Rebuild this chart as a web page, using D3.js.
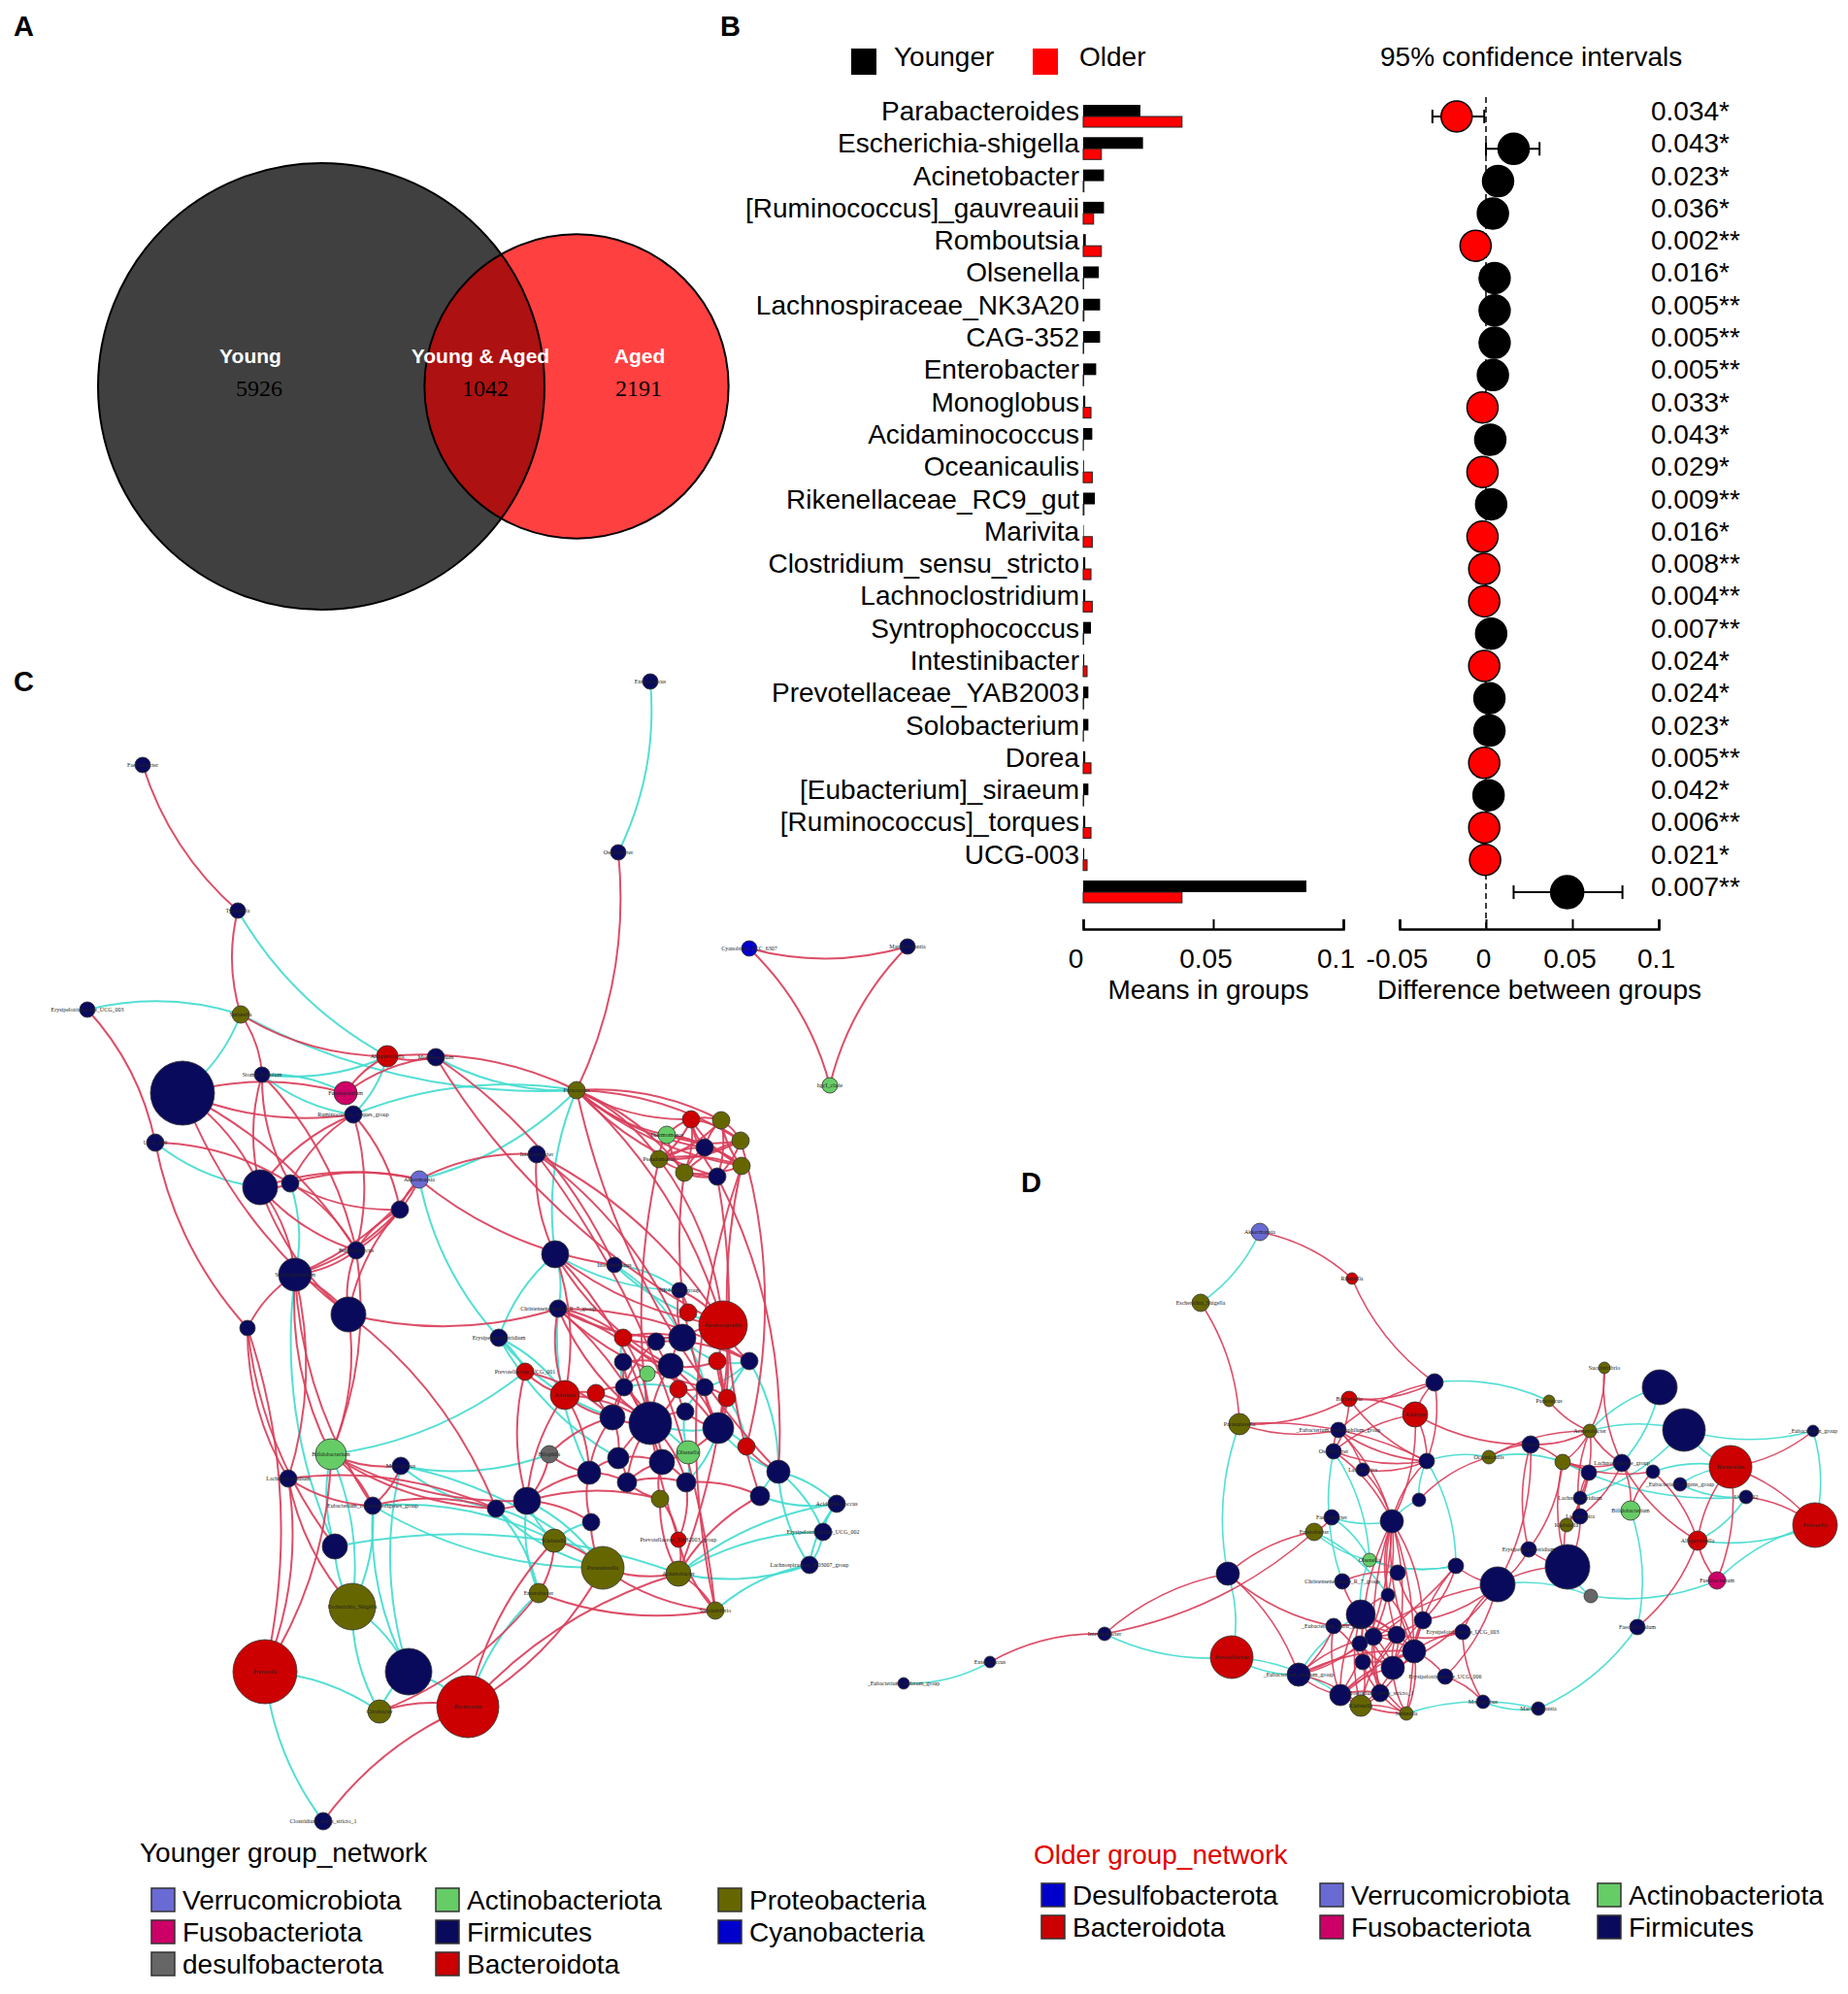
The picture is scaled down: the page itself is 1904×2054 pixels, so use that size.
<!DOCTYPE html>
<html>
<head>
<meta charset="utf-8">
<title>Younger vs Older gut microbiota</title>
<script src="https://d3js.org/d3.v7.min.js"></script>
<style>
  body { margin: 0; background: #fff; }
  text { font-family: "Liberation Sans", Arial, sans-serif; }
</style>
</head>
<body>
<svg width="1904" height="2054"></svg>
<script>
// ---------- data ----------
const vennLabels = ["Young", "Young & Aged", "Aged"];
const vennCounts = [5926, 1042, 2191];

const genera = ["Parabacteroides", "Escherichia-shigella", "Acinetobacter", "[Ruminococcus]_gauvreauii",
  "Romboutsia", "Olsenella", "Lachnospiraceae_NK3A20", "CAG-352", "Enterobacter", "Monoglobus",
  "Acidaminococcus", "Oceanicaulis", "Rikenellaceae_RC9_gut", "Marivita", "Clostridium_sensu_stricto",
  "Lachnoclostridium", "Syntrophococcus", "Intestinibacter", "Prevotellaceae_YAB2003", "Solobacterium",
  "Dorea", "[Eubacterium]_siraeum", "[Ruminococcus]_torques", "UCG-003", ""];
const meanYounger = [0.022, 0.023, 0.008, 0.008, 0.001, 0.006, 0.0065, 0.0065, 0.005, 0.0008,
  0.0035, 0.0003, 0.0045, 0.0002, 0.0008, 0.0008, 0.003, 0.0004, 0.002, 0.002,
  0.0008, 0.002, 0.0008, 0.0004, 0.0858];
const meanOlder = [0.038, 0.007, 0.0003, 0.004, 0.007, 0.0002, 0.0003, 0.0002, 0.0002, 0.003,
  0.0001, 0.0035, 0.0003, 0.0035, 0.003, 0.0035, 0.0002, 0.0015, 0.0002, 0.0001,
  0.003, 0.0002, 0.003, 0.0015, 0.038];
const diffMean = [-0.017, 0.016, 0.007, 0.004, -0.006, 0.005, 0.005, 0.005, 0.004, -0.002,
  0.0025, -0.002, 0.003, -0.002, -0.001, -0.001, 0.003, -0.001, 0.002, 0.002,
  -0.001, 0.0015, -0.001, -0.0005, 0.047];
const diffLow = [-0.031, 0.0, 0.002, 0.001, -0.010, 0.002, 0.002, 0.002, 0.001, -0.004,
  0.001, -0.004, 0.001, -0.004, -0.002, -0.002, 0.001, -0.002, 0.001, 0.001,
  -0.002, 0.0005, -0.002, -0.001, 0.016];
const diffHigh = [-0.001, 0.031, 0.012, 0.008, -0.002, 0.008, 0.008, 0.008, 0.007, -0.0005,
  0.004, -0.0005, 0.005, -0.0005, -0.0002, -0.0002, 0.005, -0.0002, 0.003, 0.003,
  -0.0002, 0.0025, -0.0002, -0.0001, 0.079];
const pValues = ["0.034*", "0.043*", "0.023*", "0.036*", "0.002**", "0.016*", "0.005**", "0.005**",
  "0.005**", "0.033*", "0.043*", "0.029*", "0.009**", "0.016*", "0.008**", "0.004**", "0.007**",
  "0.024*", "0.024*", "0.023*", "0.005**", "0.042*", "0.006**", "0.021*", "0.007**"];
const meanTicks = [0, 0.05, 0.1];
const diffTicks = [-0.05, 0, 0.05, 0.1];

const phylumCodes = ["V", "Fu", "D", "Act", "F", "B", "P", "Cy"];
const phylumColors = ["#6A6AD4", "#CC0066", "#666666", "#66CC66", "#0A0A5C", "#CC0000", "#666600", "#0000CC"];
const legendYounger = [["Verrucomicrobiota", "V"], ["Actinobacteriota", "Act"], ["Proteobacteria", "P"],
  ["Fusobacteriota", "Fu"], ["Firmicutes", "F"], ["Cyanobacteria", "Cy"],
  ["desulfobacterota", "D"], ["Bacteroidota", "B"]];
const legendOlder = [["Desulfobacterota", "Cy"], ["Verrucomicrobiota", "V"], ["Actinobacteriota", "Act"],
  ["Bacteroidota", "B"], ["Fusobacteriota", "Fu"], ["Firmicutes", "F"]];

// network C (younger): id, label, phylum, layout x, layout y, size
const cNodes = [
  ["c1","Enterococcus","F",630,12,8], ["c2","Faecalibacter","F",107,98,8], ["c3","Oscillibacter","F",597,188,8],
  ["c4","Tyzzerella","F",205,248,8], ["c5","Cyanobium_PCC_6307","Cy",732,287,8], ["c6","Marvinbryantia","F",895,285,8],
  ["c7","hgcI_clade","Act",815,428,8], ["c8","Erysipelotrichaceae_UCG_003","F",50,350,8], ["c9","Sutterella","P",208,355,9],
  ["c10","","F",148,436,33], ["c11","Stomatobaculum","F",230,417,8], ["c12","Alloprevotella","B",359,398,11],
  ["c13","Mogibacterium","F",409,399,9], ["c14","Fusobacterium","Fu",316,436,12], ["c15","Ruminococcus_torques_group","F",324,458,9],
  ["c16","Paracoccus","P",554,433,9],
  ["k1","","B",672,463,9], ["k2","","P",703,464,9], ["k3","Thermomonas","Act",647,479,9], ["k4","","P",723,485,9],
  ["k5","","F",686,492,9], ["k6","Pseudomonas","P",639,504,9], ["k7","","P",724,511,9], ["k8","","P",665,518,9], ["k9","","F",699,522,9],
  ["c18","UCG_009","F",120,487,9], ["c19","Intestinibacter","F",513,499,9], ["c20","","F",228,533,18],
  ["c21","","F",259,529,9], ["c22","Akkermansia","V",392,525,9], ["c23","","F",372,556,9],
  ["c24","Butyricicoccus","F",327,598,9], ["c25","","F",532,602,14], ["c26","Intestinimonas","F",593,613,8],
  ["c27","Subdoligranulum","F",264,623,17], ["c28","NK4A214_group","F",660,639,8], ["c29","","F",319,664,18],
  ["c30","","B",669,662,9], ["c31","Parabacteroides","B",705,675,25], ["c32","","F",215,678,8],
  ["c33","Christensenellaceae_R_7_group","F",535,658,9], ["c34","Erysipelatoclostridium","F",474,688,9], ["c35","","B",602,688,9],
  ["c36","","F",636,692,9], ["c37","","F",663,688,14], ["c38","","F",602,713,9], ["c39","","F",651,717,13],
  ["c40","","B",699,712,9], ["c41","","F",732,712,9], ["c42","Prevotellaceae_UCG_001","B",501,723,9],
  ["c43","","Act",627,725,8], ["c44","Alistipes","B",542,747,15], ["c45","","B",574,745,9], ["c46","","F",603,739,9],
  ["c47","","B",659,741,9], ["c48","","F",686,739,9], ["c49","","B",709,750,9], ["c50","","F",591,770,13],
  ["c51","","F",630,776,22], ["c52","","F",666,764,9], ["c53","","F",700,781,16], ["c54","","B",729,800,9],
  ["c55","Olsenella","Act",669,806,12], ["c56","Bifidobacterium","Act",301,808,16], ["c57","Bilophila","D",526,808,9],
  ["c58","","F",597,812,11], ["c59","","F",642,816,13], ["c60","Monoglobus","F",373,820,9], ["c61","","F",762,826,12],
  ["c62","","F",567,827,12], ["c63","Lachnoclostridium","F",257,833,9], ["c64","","F",606,837,10], ["c65","","F",667,837,10],
  ["c66","","F",503,856,14], ["c67","","P",640,854,9], ["c68","","F",743,851,10],
  ["c69","Eubacterium_coprostanoligenes_group","F",344,861,9], ["c70","","F",471,864,9], ["c71","Acidaminococcus","F",822,859,9],
  ["c72","","F",569,878,9], ["c73","Erysipelotrichaceae_UCG_002","F",808,888,9], ["c74","","F",305,903,13],
  ["c75","Klebsiella","P",531,897,12], ["c76","Prevotellaceae_YAB2003_group","B",659,896,8],
  ["c77","Lachnospiraceae_ND3007_group","F",794,922,9], ["c78","Parasutterella","P",581,925,22],
  ["c79","Acinetobacter","P",659,931,13], ["c80","Enterobacter","P",515,951,10], ["c81","Escherichia_Shigella","P",323,965,24],
  ["c82","Succinivibrio","P",697,969,9], ["c83","Prevotella","B",233,1032,33], ["c84","","F",381,1032,24],
  ["c85","Citrobacter","P",351,1073,12], ["c86","Bacteroides","B",442,1068,32], ["c87","Clostridium_sensu_stricto_1","F",293,1186,9]
];
const cPos = ("c2-c4 c3-c16 c4-c9 c8-c18 c9-c12 c9-c11 c11-c20 c11-c24 c11-c21 c10-c14 c10-c15 c10-c20 c10-c29 c10-c24 " +
  "c12-c14 c12-c16 c12-c13 c13-c26 c13-c31 c14-c13 c15-c20 c15-c24 c15-c21 c15-c23 " +
  "c16-k1 c16-k2 c16-k3 c16-k4 c16-k5 c16-k6 c16-k7 c16-k8 c16-k9 c16-c31 c16-c61 " +
  "k1-k2 k1-k3 k1-k4 k1-k5 k1-k6 k1-k7 k1-k8 k1-k9 k2-k4 k2-k5 k2-k6 k2-k7 k2-k9 k3-k4 k3-k5 k3-k6 k3-k7 k3-k8 " +
  "k4-k6 k4-k8 k4-k9 k5-k6 k5-k7 k5-k8 k6-k7 k6-k9 k7-k8 k8-k9 " +
  "k6-c31 k8-c53 k9-c61 k7-c68 k4-c54 k7-c82 k9-c79 k6-c76 " +
  "c18-c21 c18-c32 c19-c31 c19-c25 c19-c82 c19-c22 c19-c37 c20-c21 c20-c27 c20-c24 c20-c22 c20-c29 " +
  "c21-c22 c21-c23 c21-c24 c22-c23 c22-c24 c22-c26 c22-c27 c23-c24 c23-c27 c23-c29 c24-c27 c24-c29 c24-c56 " +
  "c27-c32 c27-c29 c27-c56 c27-c63 c27-c69 c29-c56 c29-c33 c29-c70 c32-c63 c32-c83 c32-c74 " +
  "c25-c51 c25-c31 c25-c44 c25-c39 c28-c31 c28-c37 c28-c30 " +
  "c33-c51 c33-c53 c33-c44 c33-c59 c33-c37 c33-c41 c33-c48 c33-c35 c42-c44 c42-c50 c42-c66 " +
  "c44-c45 c44-c50 c44-c51 c44-c66 c44-c62 " +
  "c35-c36 c35-c37 c35-c39 c35-c51 c36-c39 c36-c41 c36-c46 c37-c31 c37-c39 c38-c39 c38-c51 c38-c50 " +
  "c39-c40 c39-c47 c39-c51 c39-c53 c40-c49 c40-c53 c43-c46 c45-c46 c45-c50 c45-c51 c46-c50 c46-c51 " +
  "c47-c48 c47-c51 c47-c52 c48-c49 c48-c53 c49-c53 c50-c51 c50-c58 c50-c62 c51-c52 c51-c58 c51-c59 " +
  "c51-c64 c51-c65 c52-c53 c53-c59 c54-c61 c58-c59 c58-c62 c58-c64 c59-c64 c59-c65 c59-c67 c62-c64 " +
  "c62-c66 c64-c65 c64-c67 c65-c68 c68-c79 c67-c76 c67-c79 c65-c76 c31-c41 c31-c53 c31-c49 " +
  "c57-c66 c57-c62 c57-c50 c56-c60 c56-c69 c56-c70 c56-c83 c56-c66 c60-c69 c63-c69 c63-c70 c63-c81 " +
  "c69-c70 c70-c66 c66-c67 c72-c78 c72-c62 c72-c66 c75-c78 c75-c86 c75-c80 c78-c79 c78-c86 c78-c82 " +
  "c79-c82 c76-c82 c76-c79 c80-c82 c80-c85 c83-c63 c85-c86 c86-c87 c86-c79 c5-c6 c5-c7 c6-c7").split(" ");
const cNeg = ("c1-c3 c4-c12 c8-c9 c9-c16 c9-c10 c11-c12 c11-c14 c11-c15 c12-c15 c13-c16 c15-c16 c16-c25 c16-c22 " +
  "c18-c20 c21-c27 c27-c74 c25-c33 c25-c28 c26-c28 c26-c31 c26-c37 c33-c62 c34-c42 c34-c50 c34-c44 c34-c58 " +
  "c42-c56 c35-c46 c36-c37 c37-c40 c37-c48 c38-c46 c39-c48 c40-c41 c41-c48 c41-c53 c41-c61 c43-c51 " +
  "c46-c47 c48-c52 c49-c54 c51-c53 c51-c55 c52-c55 c53-c54 c53-c61 c53-c65 c55-c59 c55-c65 " +
  "c61-c68 c61-c71 c61-c77 c61-c73 c68-c71 c57-c60 c56-c74 c56-c81 c60-c84 c60-c78 c60-c70 " +
  "c69-c81 c69-c84 c69-c75 c69-c78 c70-c75 c70-c78 c70-c80 c74-c81 c74-c79 c66-c75 c66-c78 c72-c75 " +
  "c79-c71 c79-c77 c79-c73 c80-c86 c80-c66 c81-c85 c81-c84 c83-c87 c83-c85 c84-c85 c84-c86 " +
  "c71-c73 c73-c77 c71-c77 c82-c77 c22-c34 c34-c25").split(" ");

// network D (older)
const dNodes = [
  ["d1","Akkermansia","V",398,69,9], ["d2","Rikenella","B",493,117,6], ["d3","Escherichia_Shigella","P",337,142,9],
  ["d4","Succinivibrio","P",753,209,6], ["d5","","F",810,229,18], ["d6","","F",578,224,9], ["d7","Barnesiella","B",490,241,8],
  ["d8","Alistipes","B",558,257,13], ["d9","Paracoccus","P",696,243,6], ["d10","Parasutterella","P",377,267,11],
  ["d11","","F",835,273,22], ["d12","Acinetobacter","P",738,274,7], ["d13","_Eubacterium_group","F",968,274,6],
  ["d14","_Eubacterium_xylanophilum_group","F",479,273,8], ["d15","Blautia","F",677,288,9], ["d16","Oscillibacter","F",474,295,8],
  ["d17","Oceanicaulis","P",634,301,7], ["d18","Bacteroides","B",883,311,22], ["d19","","F",570,305,8],
  ["d20","","P",710,306,8], ["d21","Lachnospiraceae_group","F",771,307,9], ["d22","","F",803,316,7],
  ["d23","Lachnospira","F",504,314,7], ["d24","","F",737,317,8], ["d25","_Eubacterium_eligens_group","F",831,329,7],
  ["d26","UCG_002","F",899,342,7], ["d27","","F",562,345,7], ["d28","Lachnoclostridium","F",728,343,7],
  ["d29","Prevotella","B",970,371,23], ["d30","Bifidobacterium","Act",780,356,10], ["d31","Faecalibacter","F",472,363,8],
  ["d32","","F",534,367,12], ["d33","Lachnospira","F",728,362,8], ["d34","Enterobacter","P",454,378,9],
  ["d35","Klebsiella","P",714,371,7], ["d36","Alloprevotella","B",849,387,10], ["d37","Erysipelatoclostridium","F",675,396,8],
  ["d38","Olsenella","Act",511,407,7], ["d39","","F",365,421,12], ["d40","","F",600,413,8], ["d41","","F",715,414,23],
  ["d42","","F",540,420,8], ["d43","Fusobacterium","Fu",869,428,9], ["d44","","F",643,432,18], ["d45","Christensenellaceae_R_7_group","F",483,429,8],
  ["d46","","D",739,444,7], ["d47","","F",530,443,7], ["d48","","F",502,463,15], ["d49","","F",566,469,9],
  ["d50","Faecalibaculum","F",787,476,8], ["d51","_Eubacterium_hallii_group","F",474,475,8], ["d52","Erysipelotrichaceae_UCG_003","F",607,481,8],
  ["d53","Intestinibacter","F",238,483,7], ["d54","","F",539,484,9], ["d55","","F",515,486,9], ["d56","","F",501,493,8],
  ["d57","","F",557,501,12], ["d58","Prevotellaceae","B",369,507,22], ["d59","Enterococcus","F",120,512,6],
  ["d60","","F",504,512,8], ["d61","","F",535,518,12], ["d62","_Eubacterium_siraeum_group","F",438,525,12],
  ["d63","Erysipelotrichaceae_UCG_006","F",589,527,8], ["d64","_Eubacterium_nodatum_group","F",31,534,6], ["d65","","F",481,546,11],
  ["d66","Clostridium_sensu_stricto_1","F",522,544,9], ["d67","Klebsiella","P",502,557,11], ["d68","Monoglobus","F",628,553,7],
  ["d69","Marvinbryantia","F",685,560,7], ["d70","Sutterella","P",549,565,7]
];
const dPos = ("d1-d2 d2-d6 d3-d10 d10-d7 d10-d19 d10-d14 d6-d7 d6-d8 d6-d19 d6-d14 d7-d8 d7-d19 d7-d16 " +
  "d8-d15 d8-d19 d8-d16 d8-d32 d9-d12 d4-d12 d4-d21 d12-d15 d12-d17 d12-d20 d12-d21 d12-d28 d12-d33 d13-d18 " +
  "d14-d16 d14-d23 d14-d19 d14-d32 d15-d17 d15-d20 d15-d37 d15-d44 d16-d19 d16-d32 d17-d27 d18-d29 d18-d36 " +
  "d18-d43 d19-d32 d19-d23 d20-d21 d20-d24 d20-d22 d20-d37 d20-d41 d21-d33 d21-d36 d22-d36 d22-d30 d24-d35 " +
  "d24-d28 d26-d29 d28-d33 d28-d35 d30-d21 d31-d34 d32-d47 d32-d49 d32-d54 d32-d55 d32-d57 d32-d61 d32-d60 " +
  "d32-d65 d32-d66 d32-d70 d34-d39 d34-d53 d36-d43 d36-d50 d37-d41 d37-d44 d39-d53 d39-d62 d39-d51 d40-d49 " +
  "d40-d57 d40-d62 d41-d44 d41-d35 d41-d33 d44-d49 d44-d56 d44-d63 d53-d59 d62-d55 d62-d56 d62-d57 d62-d65 " +
  "d62-d67 d62-d51 d48-d57 d48-d61 d48-d56 d48-d65 d48-d54 d48-d67 d49-d55 d49-d61 d49-d66 d49-d57 d51-d54 " +
  "d51-d65 d51-d60 d52-d68 d52-d54 d52-d57 d52-d44 d54-d61 d54-d65 d54-d67 d55-d57 d55-d66 d55-d61 d56-d61 " +
  "d56-d66 d56-d70 d57-d60 d57-d65 d57-d70 d60-d66 d60-d67 d61-d65 d61-d67 d61-d70 d63-d68 d63-d57 d65-d66 " +
  "d65-d70 d66-d67 d66-d70 d67-d70 d47-d48 d47-d57 d45-d48 d45-d42 d42-d49 d23-d32 d40-d44 d44-d61").split(" ");
const dNeg = ("d1-d3 d10-d39 d6-d9 d5-d12 d5-d21 d11-d12 d11-d28 d11-d13 d13-d29 d16-d45 d16-d38 d17-d19 " +
  "d17-d20 d18-d22 d18-d11 d19-d27 d19-d40 d20-d26 d21-d24 d25-d26 d26-d36 d27-d32 d29-d36 d29-d43 d30-d50 " +
  "d31-d32 d31-d38 d34-d38 d34-d47 d38-d48 d38-d42 d38-d40 d39-d58 d41-d46 d44-d46 d46-d43 d50-d69 d53-d58 " +
  "d59-d64 d58-d62 d70-d69 d68-d69 d58-d65 d48-d62 d40-d38 d18-d25").split(" ");

// ---------- setup ----------
const svg = d3.select("svg");
const phylumColor = d3.scaleOrdinal().domain(phylumCodes).range(phylumColors);
const labelSize = "28px";

// panel letters
const panelLetters = [["A", 14, 37], ["B", 742, 37], ["C", 14, 712], ["D", 1052, 1228]];
svg.selectAll(".panel").data(panelLetters).enter().append("text")
   .attr("class", "panel")
   .attr("x", d => d[1]).attr("y", d => d[2])
   .text(d => d[0])
   .style("font-size", "29px").style("font-weight", "bold");

// ---------- A: Venn ----------
const totalYoung = vennCounts[0] + vennCounts[1],
      totalAged = vennCounts[2] + vennCounts[1];
const rScale = d3.scaleSqrt().domain([0, totalYoung]).range([0, 230]);
const cy = 398, cxL = 331, cxR = 594;
const rL = rScale(totalYoung), rR = rScale(totalAged);

const defs = svg.append("defs");
defs.append("clipPath").attr("id", "clipYoung")
    .append("circle").attr("cx", cxL).attr("cy", cy).attr("r", rL);

const venn = svg.append("g");
venn.append("circle").attr("cx", cxL).attr("cy", cy).attr("r", rL).attr("fill", "#404040");
venn.append("circle").attr("cx", cxR).attr("cy", cy).attr("r", rR).attr("fill", "#FF4040");
venn.append("circle").attr("cx", cxR).attr("cy", cy).attr("r", rR).attr("fill", "#AD1111")
    .attr("clip-path", "url(#clipYoung)");
venn.selectAll(".ring").data([[cxL, rL], [cxR, rR]]).enter().append("circle")
    .attr("cx", d => d[0]).attr("cy", cy).attr("r", d => d[1])
    .attr("fill", "none").attr("stroke", "#000").attr("stroke-width", 2);

const vennPos = [[258, 267], [495, 500], [659, 658]];
venn.selectAll(".vlab").data(vennLabels).enter().append("text")
    .attr("x", (d, i) => vennPos[i][0]).attr("y", 374)
    .attr("text-anchor", "middle").attr("fill", "#fff")
    .style("font-size", "21px").style("font-weight", "bold")
    .text(d => d);
venn.selectAll(".vnum").data(vennCounts).enter().append("text")
    .attr("x", (d, i) => vennPos[i][1]).attr("y", 408)
    .attr("text-anchor", "middle").attr("fill", "#000")
    .style("font-size", "24px").style("font-family", "'Liberation Serif', 'Times New Roman', serif")
    .text(d => d);

// ---------- B: extended error bar ----------
const rowY = d3.scalePoint().domain(d3.range(genera.length)).range([120, 919]);
const xMean = d3.scaleLinear().domain([0, 0.1]).range([1116, 1384]);
const xDiff = d3.scaleLinear().domain([-0.05, 0.1]).range([1442, 1709]);

const gB = svg.append("g");

// legend
const legB = [["Younger", "#000", 877, 921], ["Older", "#FF0000", 1064, 1112]];
legB.forEach(d => {
  gB.append("rect").attr("x", d[2]).attr("y", 50).attr("width", 26).attr("height", 27).attr("fill", d[1]);
  gB.append("text").attr("x", d[3]).attr("y", 68).text(d[0]).style("font-size", labelSize);
});
gB.append("text").attr("x", 1422).attr("y", 68).text("95% confidence intervals").style("font-size", labelSize);

// genus labels
gB.selectAll(".genus").data(genera).enter().append("text")
  .attr("x", 1112).attr("y", (d, i) => rowY(i) + 4)
  .attr("text-anchor", "end").style("font-size", labelSize)
  .text(d => d);

// bars
gB.selectAll(".barY").data(meanYounger).enter().append("rect")
  .attr("x", xMean(0)).attr("y", (d, i) => rowY(i) - 12)
  .attr("width", d => xMean(d) - xMean(0)).attr("height", 12)
  .attr("fill", "#000");
gB.selectAll(".barO").data(meanOlder).enter().append("rect")
  .attr("x", xMean(0)).attr("y", (d, i) => rowY(i))
  .attr("width", d => xMean(d) - xMean(0)).attr("height", 11)
  .attr("fill", "#FF0000").attr("stroke", "#222").attr("stroke-width", 1);

// zero line
gB.append("line")
  .attr("x1", xDiff(0)).attr("x2", xDiff(0)).attr("y1", 100).attr("y2", 957)
  .attr("stroke", "#000").attr("stroke-width", 1.5).attr("stroke-dasharray", "6,4");

// confidence intervals
const ci = gB.selectAll(".ci").data(diffMean).enter().append("g");
ci.append("line")
  .attr("x1", (d, i) => xDiff(diffLow[i])).attr("x2", (d, i) => xDiff(diffHigh[i]))
  .attr("y1", (d, i) => rowY(i)).attr("y2", (d, i) => rowY(i))
  .attr("stroke", "#000").attr("stroke-width", 2);
[diffLow, diffHigh].forEach(arr => {
  ci.append("line")
    .attr("x1", (d, i) => xDiff(arr[i])).attr("x2", (d, i) => xDiff(arr[i]))
    .attr("y1", (d, i) => rowY(i) - 7).attr("y2", (d, i) => rowY(i) + 7)
    .attr("stroke", "#000").attr("stroke-width", 2);
});
ci.append("circle")
  .attr("cx", d => xDiff(d)).attr("cy", (d, i) => rowY(i))
  .attr("r", (d, i) => i === genera.length - 1 ? 17 : 16)
  .attr("fill", d => d > 0 ? "#000" : "#FF0000")
  .attr("stroke", "#000").attr("stroke-width", 1.5);

// p values
gB.selectAll(".pval").data(pValues).enter().append("text")
  .attr("x", 1701).attr("y", (d, i) => rowY(i) + 4)
  .style("font-size", labelSize).text(d => d);

// axes
const axisMean = d3.axisBottom(xMean).tickValues(meanTicks).tickFormat(d => String(d)).tickSizeInner(-10).tickSizeOuter(-10).tickPadding(20);
const axisDiff = d3.axisBottom(xDiff).tickValues(diffTicks).tickFormat(d => String(d)).tickSizeInner(-10).tickSizeOuter(-10).tickPadding(20);
[[axisMean, -8], [axisDiff, -3]].forEach(([ax, shift]) => {
  const g = gB.append("g").attr("transform", "translate(0,957)").call(ax);
  g.select(".domain").attr("stroke-width", 2.5);
  g.selectAll(".tick line").attr("stroke-width", 2);
  g.selectAll(".tick text").attr("dx", shift)
   .style("font-size", labelSize).style("font-family", "'Liberation Sans', Arial, sans-serif");
});
gB.append("text").attr("x", 1245).attr("y", 1029).attr("text-anchor", "middle").style("font-size", labelSize).text("Means in groups");
gB.append("text").attr("x", 1586).attr("y", 1029).attr("text-anchor", "middle").style("font-size", labelSize).text("Difference between groups");

// ---------- C / D: networks ----------
function drawNetwork(nodes, pos, neg, xs, ys, edgeWidth) {
  const g = svg.append("g");
  const byId = new Map(nodes.map(d => [d[0], d]));
  const links = neg.map(s => [s, -1]).concat(pos.map(s => [s, 1]))
    .map(l => { const e = l[0].split("-"); return [byId.get(e[0]), byId.get(e[1]), l[1]]; })
    .filter(l => l[0] && l[1]);

  g.selectAll(".edge").data(links).enter().append("path")
   .attr("d", (l, i) => {
     const x1 = xs(l[0][3]), y1 = ys(l[0][4]), x2 = xs(l[1][3]), y2 = ys(l[1][4]);
     const k = i % 2 ? 0.14 : -0.14;
     const mx = (x1 + x2) / 2 - (y2 - y1) * k, my = (y1 + y2) / 2 + (x2 - x1) * k;
     return `M${x1},${y1}Q${mx},${my} ${x2},${y2}`;
   })
   .attr("fill", "none")
   .attr("stroke", l => l[2] > 0 ? "#DA3F5B" : "#44DCD0")
   .attr("stroke-width", edgeWidth)
   .attr("stroke-opacity", 0.92);

  const sx = xs(1) - xs(0);
  g.selectAll(".node").data(nodes).enter().append("circle")
   .attr("cx", d => xs(d[3])).attr("cy", d => ys(d[4]))
   .attr("r", d => d[5] * sx)
   .attr("fill", d => phylumColor(d[2]))
   .attr("stroke", "#333").attr("stroke-width", 0.8);

  g.selectAll(".nlab").data(nodes.filter(d => d[1])).enter().append("text")
   .attr("x", d => xs(d[3])).attr("y", d => ys(d[4]) + 2)
   .attr("text-anchor", "middle")
   .style("font-family", "'Liberation Serif', 'Times New Roman', serif")
   .style("font-size", "6px").attr("fill", "#222")
   .text(d => d[1]);
}

const xC = d3.scaleLinear().domain([0, 900]).range([40, 940]);
const yC = d3.scaleLinear().domain([0, 1200]).range([690, 1890]);
drawNetwork(cNodes, cPos, cNeg, xC, yC, 2);

const xD = d3.scaleLinear().domain([0, 1000]).range([900, 1900]);
const yD = d3.scaleLinear().domain([0, 600]).range([1200, 1800]);
drawNetwork(dNodes, dPos, dNeg, xD, yD, 1.6);

// ---------- network legends ----------
function drawLegend(title, titleColor, items, x0, titleY, rowStart, colX) {
  svg.append("text").attr("x", x0).attr("y", titleY).attr("fill", titleColor)
     .style("font-size", labelSize).text(title);
  const it = svg.selectAll(null).data(items).enter().append("g")
     .attr("transform", (d, i) => `translate(${colX[i % 3]},${rowStart + Math.floor(i / 3) * 33})`);
  it.append("rect").attr("x", 0).attr("y", -12).attr("width", 24).attr("height", 24)
     .attr("fill", d => phylumColor(d[1])).attr("stroke", "#333").attr("stroke-width", 1.5);
  it.append("text").attr("x", 32).attr("y", 10).style("font-size", labelSize).text(d => d[0]);
}
drawLegend("Younger group_network", "#000", legendYounger, 144, 1918, 1957, [156, 449, 740]);
drawLegend("Older group_network", "#E00000", legendOlder, 1065, 1920, 1952, [1073, 1360, 1646]);
</script>
</body>
</html>
